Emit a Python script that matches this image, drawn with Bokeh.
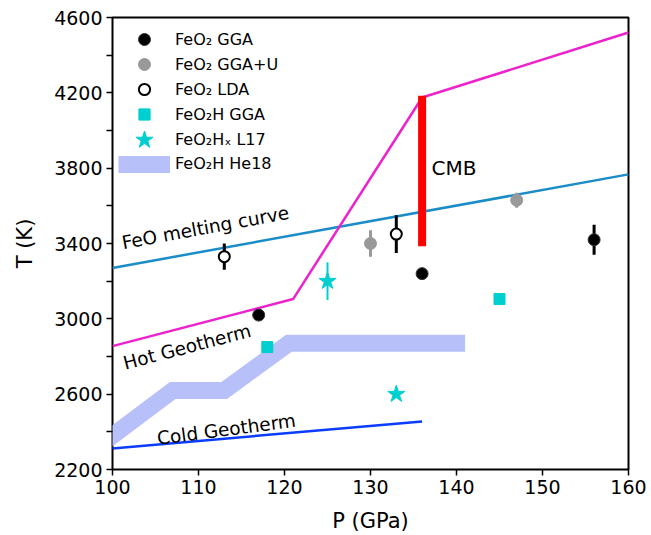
from bokeh.plotting import figure
from bokeh.models import Legend, LegendItem, FixedTicker, Range1d
from bokeh.core.properties import value
from bokeh.embed import file_html
from bokeh.resources import INLINE

FONT = "DejaVu Sans"

# ---- data ----
gga_p = [117, 136, 156]
gga_t = [3020, 3240, 3420]
gga_err = [20, 20, 80]

ggau_p = [130, 147]
ggau_t = [3400, 3630]
ggau_err = [70, 40]

lda_p = [113, 133]
lda_t = [3330, 3450]
lda_err = [70, 100]

hgga_p = [118, 145]
hgga_t = [2850, 3105]
hgga_err = [30, 30]

l17_p = [125, 133]
l17_t = [3200, 2600]
l17_err = [100, 0]

he18_p = [98, 107, 113, 120.5, 141]
he18_t = [2311, 2620, 2620, 2870, 2870]

feo_p = [100, 160]
feo_t = [3270, 3767]

hot_p = [100, 121, 136, 160]
hot_t = [2855, 3105, 4175, 4520]

cold_p = [100, 136]
cold_t = [2312, 2455]

cmb_p = [136, 136]
cmb_t = [3385, 4185]

label_text = ["FeO melting curve", "Hot Geotherm", "Cold Geotherm"]
label_p = [101.1, 101.3, 105.2]
label_t = [3403, 2763, 2365]
label_angle = [10.4, 14.7, 7.5]

cmb_label = ["CMB"]
cmb_label_p = [137.1]
cmb_label_t = [3800]

legend_labels = ["FeO₂ GGA", "FeO₂ GGA+U", "FeO₂ LDA", "FeO₂H GGA", "FeO₂Hₓ L17", "FeO₂H He18"]

x_ticks = [100, 110, 120, 130, 140, 150, 160]
y_ticks = [2200, 2400, 2600, 2800, 3000, 3200, 3400, 3600, 3800, 4000, 4200, 4400, 4600]
y_labeled = [2200, 2600, 3000, 3400, 3800, 4200, 4600]

FRAME_H = 452
p = figure(width=651, height=535, output_backend="svg", toolbar_location=None,
           x_range=Range1d(100, 160), y_range=Range1d(2200, 4600),
           min_border_left=112, min_border_right=23, min_border_top=17, min_border_bottom=66)
p.grid.visible = False
p.outline_line_color = "black"
p.outline_line_width = 2
p.background_fill_color = "white"
p.border_fill_color = "white"

# ---- lines ----
p.line(feo_p, feo_t, line_color="#1a8cc8", line_width=2.5)
p.line(hot_p, hot_t, line_color="#ee22cc", line_width=2.5)
p.line(cold_p, cold_t, line_color="#0a3cff", line_width=2.5)
band = p.line(he18_p, he18_t, line_color="#b8c0fa", line_width=17,
              line_join="miter", line_cap="butt")
p.line(cmb_p, cmb_t, line_color="red", line_width=8, line_cap="butt")

# ---- error bars ----
def err(px, pt, pe, color, w=3):
    lo = [t - e for t, e in zip(pt, pe)]
    hi = [t + e for t, e in zip(pt, pe)]
    p.segment(px, lo, px, hi, line_color=color, line_width=w)

err(gga_p, gga_t, gga_err, "black")
err(ggau_p, ggau_t, ggau_err, "#999999")
err(lda_p, lda_t, lda_err, "black")
err(hgga_p, hgga_t, hgga_err, "#00cfcf", 2)
err(l17_p, l17_t, l17_err, "#00cfcf", 2)

r_gga = p.scatter(gga_p, gga_t, marker="circle", size=12, fill_color="black",
                  line_color="#333333", line_width=1)
r_ggau = p.scatter(ggau_p, ggau_t, marker="circle", size=12, fill_color="#999999",
                   line_color="#999999")
r_lda = p.scatter(lda_p, lda_t, marker="circle", size=11, fill_color="white",
                  line_color="black", line_width=2)
r_hgga = p.scatter(hgga_p, hgga_t, marker="square", size=11, fill_color="#00cfcf",
                   line_color="#00cfcf")
r_l17 = p.scatter(l17_p, l17_t, marker="star", size=18, fill_color="#00cfcf",
                  line_color="#00cfcf")

# ---- annotations ----
p.text(label_p, label_t, text=label_text, angle=label_angle, angle_units="deg",
       text_font=value(FONT), text_font_size="18.5px", text_color="black",
       text_baseline="alphabetic")
p.text(cmb_label_p, cmb_label_t, text=cmb_label, text_font=value(FONT),
       text_font_size="20px", text_color="black", text_baseline="alphabetic")

# ---- axes ----
p.xaxis.ticker = FixedTicker(ticks=x_ticks)
p.yaxis.ticker = FixedTicker(ticks=y_ticks)
p.yaxis.major_label_overrides = {t: ("" if t not in y_labeled else str(t)) for t in y_ticks}
for ax in (p.xaxis[0], p.yaxis[0]):
    ax.minor_tick_line_color = None
    ax.major_tick_in = 0
    ax.major_tick_out = 6
    ax.major_tick_line_width = 1.5
    ax.axis_line_color = None
    ax.major_label_text_font = FONT
    ax.major_label_text_font_size = "19px"
    ax.major_label_text_color = "black"
    ax.axis_label_text_font = FONT
    ax.axis_label_text_font_size = "21px"
    ax.axis_label_text_font_style = "normal"
    ax.axis_label_text_color = "black"
    ax.major_label_standoff = 4
p.xaxis.axis_label = "P (GPa)"
p.yaxis.axis_label = "T (K)"
p.xaxis.axis_label_standoff = 12
p.yaxis.axis_label_standoff = 14

# ---- legend: one single-row legend per entry so marker sizes can differ ----
legend_renderers = [r_gga, r_ggau, r_lda, r_hgga, r_l17, band]
glyph_heights = [30, 30, 28, 28, 45, 18]
row_pitch = 25
first_row_from_top = 22
for i, (lab, rend, gh) in enumerate(zip(legend_labels, legend_renderers, glyph_heights)):
    center = FRAME_H - first_row_from_top - i * row_pitch
    lg = Legend(items=[LegendItem(label=lab, renderers=[rend])],
                location=(6, center - gh / 2))
    lg.margin = 0
    lg.padding = 0
    lg.spacing = 0
    lg.glyph_width = 52
    lg.glyph_height = gh
    lg.label_height = gh
    lg.label_standoff = 5
    lg.label_text_font = FONT
    lg.label_text_font_size = "16px"
    lg.label_text_color = "black"
    lg.border_line_alpha = 0
    lg.background_fill_alpha = 0
    p.add_layout(lg)

open("out.html", "w").write(file_html(p, INLINE))
